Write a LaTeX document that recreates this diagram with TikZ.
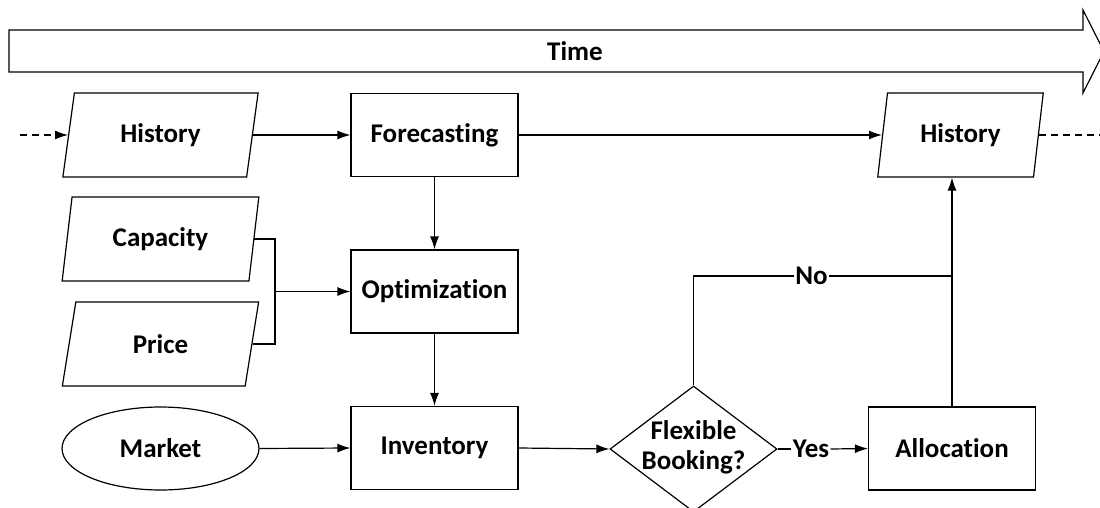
\documentclass[tikz,border=0pt]{standalone}
\usepackage{fontspec}
\setmainfont{Carlito}[Ligatures={NoCommon,NoContextual}]
\usetikzlibrary{shapes.geometric,arrows.meta}

\begin{document}
\begin{tikzpicture}[x=1pt,y=-1pt,
  line width=1.2pt,
  every node/.style={font=\fontsize{27}{30}\selectfont\bfseries},
  boxstep/.style={draw,rectangle,minimum width=167,minimum height=83,inner sep=0pt},
  datastep/.style={draw,trapezium,trapezium stretches=true,
    trapezium left angle=77,trapezium right angle=103,
    minimum width=197,minimum height=84,inner sep=0pt},
  flow/.style={-{Latex[length=13pt,width=9pt]}},
  lbl/.style={inner sep=1pt}]

\useasboundingbox (0,0) rectangle (1100,508);

% time axis
\draw (9,30) -- (1083,30) -- (1083,10) -- (1104,51.5) -- (1083,93) -- (1083,72) -- (9,72) -- cycle;
\node (time) at (575,51) {Time};

% processing steps
\node[boxstep] (fc)    at (434.5,135) {Forecasting};
\node[boxstep] (opt)   at (434.5,291.5) {Optimization};
\node[boxstep] (inv)   at (434.5,448) {Inventory};
\node[boxstep] (alloc) at (952,448.5) {Allocation};

% data inputs
\node[datastep] (hist1) at (160.5,135) {History};
\node[datastep] (cap)   at (160.5,239) {Capacity};
\node[datastep] (price) at (160.5,344) {Price};
\node[datastep,minimum width=167] (hist2) at (960.5,135) {History};
\node[draw,ellipse,minimum width=197,minimum height=83,inner sep=0pt] (market) at (160.5,448.5) {Market};

% decision
\node[draw,diamond,minimum width=167,minimum height=126,inner sep=0pt] (dec) at (693.5,449) {};
\node[align=center,inner sep=0pt] (dectext) at (693.5,447) {Flexible\\Booking?};

% connector ends
\coordinate (inl)  at (20,135);
\coordinate (outr) at (1100,135);
\coordinate (brk)  at (275,291.5);

\draw[dash pattern=on 7pt off 5pt,-{Latex[length=13pt,width=9pt]}] (inl) -- (hist1.left side);
\draw[dash pattern=on 7pt off 5pt] (hist2.right side) -- (outr);

\draw[flow] (hist1.right side) -- (fc.west);
\draw[flow] (fc.east) -- (hist2.left side);
\draw[flow] (fc.south) -- (opt.north);
\draw[flow] (opt.south) -- (inv.north);
\draw[flow] (market.east) -- (inv.west);
\draw[flow] (inv.east) -- (dec.west);

% capacity and price merge into optimization
\draw (cap.right side) -| (brk) |- (price.right side);
\draw[flow] (brk) -- (opt.west);

% decision branches
\node[lbl] (yes) at (811,449) {Yes};
\draw (dec.east) -- (yes.west);
\draw[flow] (yes.east) -- (alloc.west);

\node[lbl] (no) at (811.5,276) {No};
\draw (dec.north) |- (no.west);
\draw (no.east) -- (no -| alloc.north);

\draw[flow] (alloc.north) -- (alloc.north |- hist2.bottom side);

\end{tikzpicture}
\end{document}
